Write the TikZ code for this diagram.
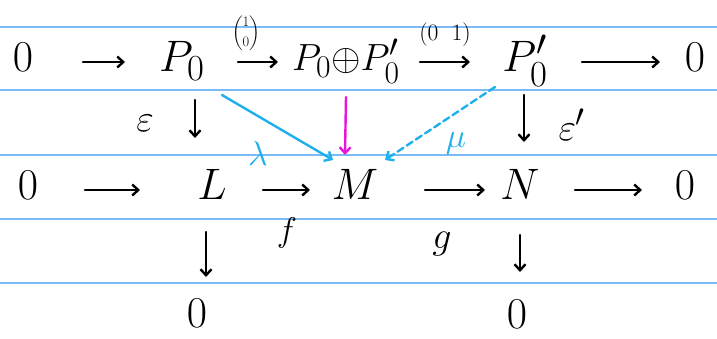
\documentclass[tikz,border=0pt]{standalone}
\usepackage{amsmath}
\usetikzlibrary{arrows.meta,calc}
\definecolor{ruleblue}{RGB}{122,186,245}
\definecolor{cyanink}{RGB}{30,176,236}
\definecolor{magink}{RGB}{232,20,220}
\tikzset{
 obj/.style={inner sep=0pt, text height=18pt, text depth=7pt, font=\Huge, scale=1.77, transform shape},
 lowobj/.style={inner sep=0pt, font=\Huge, scale=1.77, transform shape},
 lbl/.style={inner sep=0pt, font=\Huge, scale=1.53, transform shape},
 arr/.style={line width=2.4pt, -{Straight Barb[length=6pt,width=11pt]}, line cap=round},
 ruleline/.style={draw=ruleblue, line width=1.6pt}
}
\begin{document}
\begin{tikzpicture}[x=1pt,y=-1pt]
\useasboundingbox (0,0) rectangle (717,338);
\foreach \yy in {27,90,155,219,283} \draw[ruleline] (0,\yy) -- (717,\yy);
% row 1
\node[obj] (z1) at (23,62) {$0$};
\node[obj] (p) at (182,62) {$P_0$};
\node[obj, scale=0.86] (s) at (346,62) {$P_0{\oplus}P'_0$};
\node[obj] (pp) at (525,62) {$P'_0$};
\node[obj] (z2) at (695,62) {$0$};
% row 2
\node[obj] (z3) at (28,190) {$0$};
\node[obj] (L) at (212,190) {$L$};
\node[obj] (M) at (355,190) {$M$};
\node[obj] (N) at (520,190) {$N$};
\node[obj] (z4) at (685,190) {$0$};
% row 3
\node[lowobj] (z5) at (197,313) {$0$};
\node[lowobj] (z6) at (517,314) {$0$};
% row 1 arrows
\draw[arr, shorten <=60pt, shorten >=57pt] (z1.center) -- (p.center);
\draw[arr, shorten <=56pt, shorten >=68pt] (p.center) -- (s.center);
\draw[arr, shorten <=74pt, shorten >=55pt] (s.center) -- (pp.center);
\draw[arr, shorten <=57pt, shorten >=35pt] (pp.center) -- (z2.center);
% row 2 arrows
\draw[arr, shorten <=57pt, shorten >=72pt] (z3.center) -- (L.center);
\draw[arr, shorten <=51pt, shorten >=45pt] (L.center) -- (M.center);
\draw[arr, shorten <=70pt, shorten >=35pt] (M.center) -- (N.center);
\draw[arr, shorten <=55pt, shorten >=43pt] (N.center) -- (z4.center);
% vertical arrows
\draw[arr] ($(p.center)+(13,38)$) -- ($(L.center)+(-17,-52)$);
\draw[arr] ($(pp.center)+(-1,33)$) -- ($(N.center)+(4,-48)$);
\draw[arr] ($(L.center)+(-6,42)$) -- ($(z5.center)+(9,-36)$);
\draw[arr] ($(N.center)+(0,45)$) -- ($(z6.center)+(3,-42)$);
% coloured arrows
\draw[arr, draw=cyanink] ($(p.center)+(40,33)$) -- ($(M.center)+(-22,-30)$);
\draw[arr, draw=magink] ($(s.center)+(0,35)$) -- ($(M.center)+(-10,-35)$);
\draw[arr, draw=cyanink, dashed, dash pattern=on 7pt off 4pt] ($(pp.center)+(-30,25)$) -- ($(M.center)+(30,-30)$);
% labels
\node[lbl] (eps) at (145,123) {$\varepsilon$};
\node[lbl] (epsp) at (572,125) {$\varepsilon'$};
\node[lbl, scale=0.9, text=cyanink] (lam) at (258,154) {$\lambda$};
\node[lbl, scale=0.9, text=cyanink] (mu) at (456,143) {$\mu$};
\node[lbl, scale=0.9] (f) at (287,233) {$f$};
\node[lbl] (g) at (442,244) {$g$};
\node[lbl, scale=0.38] (m1) at (246,33) {$\dbinom{1}{0}$};
\node[lbl, scale=0.62] (m2) at (445,35) {$(0\;\;1)$};
\end{tikzpicture}
\end{document}
